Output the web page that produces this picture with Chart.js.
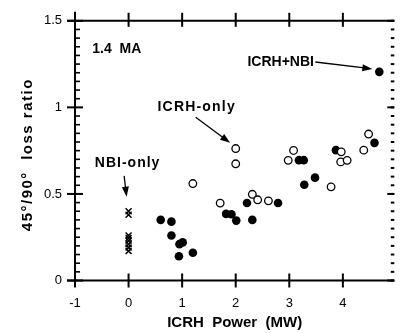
<!DOCTYPE html>
<html><head><meta charset="utf-8">
<script src="https://cdn.jsdelivr.net/npm/chart.js@4"></script>
<style>html,body{margin:0;padding:0;background:#fff;overflow:hidden}</style>
</head><body>
<canvas id="c" width="400" height="333"></canvas>
<script>
const xTicks = [-1, 0, 1, 2, 3, 4];
const xTickLabels = ['-1', '0', '1', '2', '3', '4'];
const yTicks = [0, 0.5, 1, 1.5];
const yTickLabels = ['0', '0.5', '1', '1.5'];

const icrhNbiX = [0.6, 0.8, 0.8, 0.95, 1.01, 0.94, 1.2, 1.82, 1.92, 2.01, 2.21, 2.31, 2.79, 3.18, 3.27, 3.28, 3.48, 3.87, 4.59, 4.68];
const icrhNbiY = [0.35, 0.34, 0.26, 0.21, 0.22, 0.14, 0.16, 0.385, 0.383, 0.346, 0.448, 0.35, 0.448, 0.695, 0.695, 0.553, 0.594, 0.753, 0.795, 1.205];
const icrhOnlyX = [1.2, 1.71, 2.0, 2.0, 2.31, 2.41, 2.61, 2.98, 3.08, 3.78, 3.97, 3.96, 4.08, 4.39, 4.48];
const icrhOnlyY = [0.56, 0.447, 0.762, 0.674, 0.498, 0.466, 0.46, 0.694, 0.751, 0.541, 0.743, 0.685, 0.694, 0.753, 0.846];
const nbiOnlyX = [0, 0, 0, 0, 0, 0, 0, 0];
const nbiOnlyY = [0.40, 0.38, 0.26, 0.245, 0.23, 0.21, 0.19, 0.17];

const texts = [
  {text: '1.4  MA', x: -0.22, y: 1.338, size: 14, spacing: 0},
  {text: 'ICRH+NBI', x: 2.84, y: 1.262, size: 14, spacing: 0},
  {text: 'ICRH-only', x: 1.272, y: 1.003, size: 14, spacing: 1.2},
  {text: 'NBI-only', x: -0.018, y: 0.678, size: 14, spacing: 1}
];
const arrows = [
  {x1: 3.486, y1: 1.262, x2: 4.55, y2: 1.222},
  {x1: 1.253, y1: 0.943, x2: 1.895, y2: 0.795},
  {x1: -0.083, y1: 0.604, x2: -0.037, y2: 0.484}
];
const yTitle = '45°/90°  loss ratio';
const xTitle = 'ICRH  Power  (MW)';

const pts = (xs, ys) => xs.map((v, i) => ({x: v, y: ys[i]}));
const FONT = "'Liberation Sans', Arial, Helvetica, sans-serif";

const frame = {
  id: 'frame',
  beforeDatasetsDraw(chart) {
    const {ctx, chartArea: a, scales: {x, y}} = chart;
    const line = (x1, y1, x2, y2) => { ctx.beginPath(); ctx.moveTo(x1, y1); ctx.lineTo(x2, y2); ctx.stroke(); };
    ctx.save();
    ctx.strokeStyle = '#000';
    ctx.lineWidth = 2;
    line(a.left, a.top - 9, a.left, a.bottom + 6);
    line(a.left - 8, a.top, a.right, a.top);
    line(a.left - 8, a.bottom, a.right, a.bottom);
    yTicks.forEach(v => { const p = y.getPixelForValue(v); line(a.left - 8, p, a.left + 8, p); line(a.right - 7, p, a.right, p); });
    xTicks.forEach(v => { const p = x.getPixelForValue(v); line(p, a.bottom - 7, p, a.bottom + 7); line(p, a.top - 8, p, a.top + 6); });
    ctx.lineWidth = 1.6;
    for (let i = 1; i < 30; i++) {
      if (i % 10 === 0) continue;
      const p = y.getPixelForValue(i * 0.05);
      line(a.left, p, a.left + 5, p);
    }
    ctx.lineWidth = 2;
    for (let i = 0; i <= 30; i++) {
      const p = y.getPixelForValue(i * 0.05);
      line(a.right - 3.5, p, a.right, p);
    }
    ctx.restore();
  },
  afterDraw(chart) {
    const {ctx, chartArea: a, scales: {x, y}} = chart;
    ctx.save();
    ctx.fillStyle = '#000';
    ctx.strokeStyle = '#000';
    ctx.textAlign = 'center';
    ctx.textBaseline = 'middle';
    texts.forEach(t => {
      ctx.font = 'bold ' + t.size + 'px ' + FONT;
      ctx.letterSpacing = t.spacing + 'px';
      ctx.fillText(t.text, x.getPixelForValue(t.x), y.getPixelForValue(t.y));
    });
    ctx.letterSpacing = '0px';
    arrows.forEach(r => {
      const x1 = x.getPixelForValue(r.x1), y1 = y.getPixelForValue(r.y1);
      const x2 = x.getPixelForValue(r.x2), y2 = y.getPixelForValue(r.y2);
      const ang = Math.atan2(y2 - y1, x2 - x1);
      const L = 10, W = 3.5;
      ctx.lineWidth = 1.3;
      ctx.beginPath(); ctx.moveTo(x1, y1);
      ctx.lineTo(x2 - (L - 2) * Math.cos(ang), y2 - (L - 2) * Math.sin(ang)); ctx.stroke();
      ctx.beginPath();
      ctx.moveTo(x2, y2);
      ctx.lineTo(x2 - L * Math.cos(ang) + W * Math.sin(ang), y2 - L * Math.sin(ang) - W * Math.cos(ang));
      ctx.lineTo(x2 - L * Math.cos(ang) - W * Math.sin(ang), y2 - L * Math.sin(ang) + W * Math.cos(ang));
      ctx.closePath(); ctx.fill();
    });
    ctx.translate(28, (a.top + a.bottom) / 2 + 4);
    ctx.rotate(-Math.PI / 2);
    ctx.font = 'bold 15px ' + FONT;
    ctx.letterSpacing = '1.5px';
    ctx.fillText(yTitle, 0, 0);
    ctx.restore();
  }
};

new Chart(document.getElementById('c'), {
  type: 'scatter',
  data: {
    datasets: [
      {label: 'ICRH-only', data: pts(icrhOnlyX, icrhOnlyY), pointStyle: 'circle', pointRadius: 3.8,
       backgroundColor: '#fff', borderColor: '#000', borderWidth: 1.3},
      {label: 'ICRH+NBI', data: pts(icrhNbiX, icrhNbiY), pointStyle: 'circle', pointRadius: 4.3,
       backgroundColor: '#000', borderColor: '#000', borderWidth: 0},
      {label: 'NBI-only', data: pts(nbiOnlyX, nbiOnlyY), pointStyle: 'crossRot', pointRadius: 4.2,
       backgroundColor: '#000', borderColor: '#000', borderWidth: 1.5}
    ]
  },
  options: {
    responsive: false,
    animation: false,
    devicePixelRatio: 1,
    layout: {padding: {top: 18.5, right: 0, left: 0, bottom: 0}},
    plugins: {legend: {display: false}, tooltip: {enabled: false}},
    scales: {
      x: {
        type: 'linear', min: -1, max: 4.96,
        grid: {display: false, drawTicks: false},
        border: {display: false},
        afterBuildTicks: s => { s.ticks = xTicks.map(v => ({value: v})); },
        afterFit: s => { s.height = 52.5; },
        ticks: {padding: 15, color: '#000', font: {family: FONT, size: 13}, maxRotation: 0,
                callback: (v, i) => xTickLabels[i]},
        title: {display: true, text: xTitle, color: '#000',
                font: {family: FONT, size: 15, weight: 'bold'}, padding: {top: 0, bottom: 1}}
      },
      y: {
        type: 'linear', min: 0, max: 1.5,
        grid: {display: false, drawTicks: false},
        border: {display: false},
        afterBuildTicks: s => { s.ticks = yTicks.map(v => ({value: v})); },
        afterFit: s => { s.width = 75; },
        ticks: {padding: 13, color: '#000', font: {family: FONT, size: 13},
                callback: (v, i) => yTickLabels[i]}
      }
    }
  },
  plugins: [frame]
});
</script>
</body></html>
